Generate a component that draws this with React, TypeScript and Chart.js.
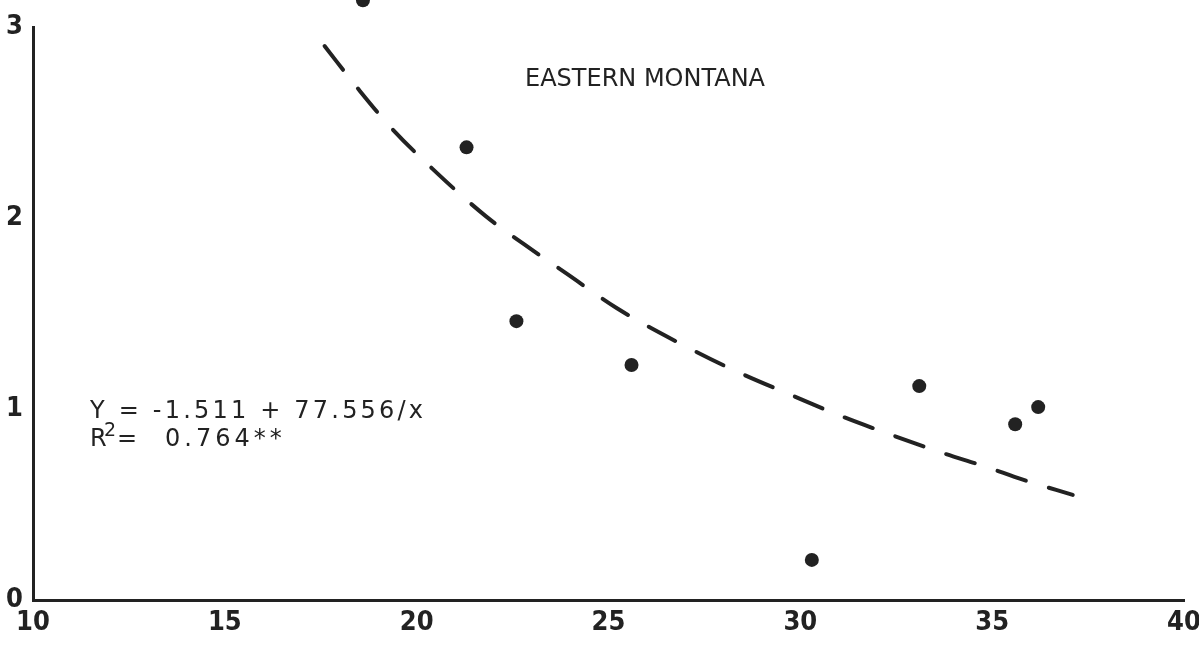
import React, { useEffect, useRef } from "react";
import { Chart, registerables } from "chart.js";

Chart.register(...registerables);

// Observed data points (x, y)
const pointX = [18.6, 21.3, 22.6, 25.6, 30.3, 33.1, 35.6, 36.2];
const pointY = [3.14, 2.37, 1.46, 1.23, 0.21, 1.12, 0.92, 1.01];

// Fitted curve
const fitX = [17.6, 18.5, 19.3, 20.4, 21.8, 23.1, 23.9, 25.2, 26.8, 28.3, 29.8, 31.1, 32.3, 33.7, 34.8, 35.8, 37.1];
const fitY = [2.9, 2.67, 2.48, 2.26, 2.01, 1.82, 1.71, 1.53, 1.35, 1.2, 1.07, 0.96, 0.87, 0.77, 0.7, 0.63, 0.55];

const xTicks = [10, 15, 20, 25, 30, 35, 40];
const yTicks = [0, 1, 2, 3];

const titleText = "EASTERN MONTANA";
const equationText = "Y = -1.511 + 77.556/x";
const rSquaredText = "0.764**";

const INK = "#222222";
const TICK_FONT = "'Liberation Sans Narrow', 'DejaVu Sans Condensed', 'Arial Narrow', 'Liberation Sans', sans-serif";
const TEXT_FONT = "'DejaVu Sans', sans-serif";

const annotations = {
  id: "annotations",
  afterDatasetsDraw(chart: any) {
    // redraw observed points without the chart-area check so the top one (partly above the frame) shows
    const meta = chart.getDatasetMeta(1);
    const ctx = chart.ctx as CanvasRenderingContext2D;
    ctx.save();
    meta.data.forEach((el: any) => {
      if (el.y < chart.chartArea.top + 8) el.draw(ctx);
    });
    ctx.restore();
  },
  afterDraw(chart: any) {
    const ctx = chart.ctx as CanvasRenderingContext2D;
    ctx.save();
    ctx.fillStyle = INK;
    ctx.textAlign = "left";
    ctx.textBaseline = "alphabetic";
    ctx.font = `24px ${TEXT_FONT}`;
    (ctx as any).letterSpacing = "0px";
    ctx.fillText(titleText, 525, 86);

    (ctx as any).letterSpacing = "3.2px";
    ctx.fillText(equationText, 90, 418);
    (ctx as any).letterSpacing = "0px";
    ctx.fillText("R", 90, 446);
    ctx.font = `19px ${TEXT_FONT}`;
    ctx.fillText("2", 104, 436);
    ctx.font = `24px ${TEXT_FONT}`;
    ctx.fillText("=", 117, 446);
    (ctx as any).letterSpacing = "4px";
    ctx.fillText(rSquaredText, 165, 446);
    ctx.restore();
  },
};

export default function App() {
  const ref = useRef<HTMLCanvasElement | null>(null);

  useEffect(() => {
    document.body.style.margin = "0";
    document.body.style.background = "#ffffff";
    const canvas = ref.current;
    if (!canvas) return;

    const chart = new Chart(canvas, {
      type: "scatter",
      data: {
        datasets: [
          {
            type: "line",
            label: "fit",
            data: fitX.map((x, i) => ({ x, y: fitY[i] })),
            borderColor: INK,
            borderWidth: 4,
            borderDash: [30, 24],
            borderCapStyle: "round",
            pointRadius: 0,
            fill: false,
            cubicInterpolationMode: "monotone",
            clip: false,
          } as any,
          {
            type: "scatter",
            label: "obs",
            data: pointX.map((x, i) => ({ x, y: pointY[i] })),
            backgroundColor: INK,
            borderColor: INK,
            pointRadius: 7,
            pointBorderWidth: 0,
            clip: false,
          } as any,
        ],
      },
      options: {
        responsive: false,
        animation: false,
        layout: { padding: { top: 27, right: 15, left: 0, bottom: 0 } },
        plugins: {
          legend: { display: false },
          tooltip: { enabled: false },
          title: { display: false },
        },
        scales: {
          x: {
            type: "linear",
            min: 10,
            max: 40,
            afterBuildTicks: (s: any) => {
              s.ticks = xTicks.map((v) => ({ value: v }));
            },
            afterFit: (s: any) => {
              s.height = 45;
              s.paddingLeft = 0;
              s.paddingRight = 0;
            },
            grid: { display: false, drawTicks: false },
            border: { display: true, color: INK, width: 3 },
            ticks: {
              padding: 7,
              color: INK,
              maxRotation: 0,
              autoSkip: false,
              font: { family: TICK_FONT, size: 27, weight: "bold" },
              callback: (v: any) => String(v),
            },
          },
          y: {
            type: "linear",
            min: 0,
            max: 3,
            afterBuildTicks: (s: any) => {
              s.ticks = yTicks.map((v) => ({ value: v }));
            },
            afterFit: (s: any) => {
              s.width = 33;
              s.paddingTop = 0;
              s.paddingBottom = 0;
            },
            grid: { display: false, drawTicks: false },
            border: { display: true, color: INK, width: 3 },
            ticks: {
              padding: 10,
              color: INK,
              autoSkip: false,
              font: { family: TICK_FONT, size: 27, weight: "bold" },
              callback: (v: any) => String(v),
            },
          },
        },
      },
      plugins: [annotations],
    });

    return () => chart.destroy();
  }, []);

  return (
    <div style={{ width: 1199, height: 645, background: "#fff" }}>
      <canvas ref={ref} width={1199} height={645} style={{ display: "block" }} />
    </div>
  );
}
